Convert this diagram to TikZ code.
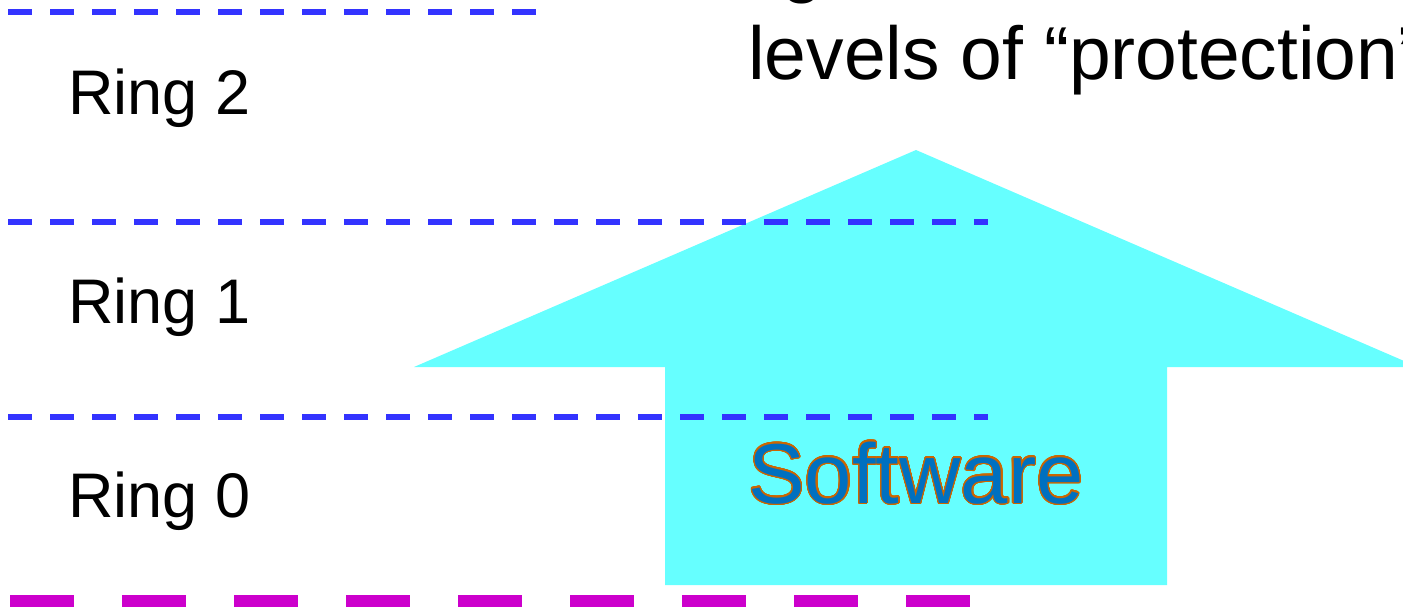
\documentclass[tikz,border=0pt]{standalone}
\usepackage{fontspec}
\setmainfont{Liberation Sans}
\usepackage[copies]{contour}
\contournumber{32}
\contourlength{1.2pt}

\definecolor{ringblue}{RGB}{51,51,255}
\definecolor{arrowcyan}{RGB}{102,255,255}
\definecolor{floormagenta}{RGB}{204,0,204}
\definecolor{swblue}{RGB}{0,112,192}
\definecolor{swedge}{RGB}{204,102,0}

\tikzset{
  ringline/.style={draw=ringblue, line width=6pt, dash pattern=on 24pt off 18pt},
  floorline/.style={draw=floormagenta, line width=21pt, dash pattern=on 64pt off 48pt},
  ringlabel/.style={anchor=base west, inner sep=0pt, font=\fontsize{63}{76}\selectfont},
  headline/.style={anchor=base west, inner sep=0pt, font=\fontsize{75}{90}\selectfont},
  swlabel/.style={anchor=base, inner sep=0pt, font=\fontsize{85}{102}\selectfont}
}

\begin{document}
\begin{tikzpicture}[x=1pt, y=-1pt]
  \useasboundingbox (0,0) rectangle (1403,606);
  \clip (0,0) rectangle (1403,606);

  % upward arrow: privilege grows towards the top
  \fill[arrowcyan] (665,585) -- (665,367) -- (414,367) -- (916,150)
                   -- (1418,367) -- (1167,367) -- (1167,585) -- cycle;

  % ring boundaries
  \coordinate (r2a) at (8,12);   \coordinate (r2b) at (536,12);
  \coordinate (r1a) at (8,222);  \coordinate (r1b) at (988,222);
  \coordinate (r0a) at (8,417);  \coordinate (r0b) at (988,417);
  \draw[ringline] (r2a) -- (r2b);
  \draw[ringline] (r1a) -- (r1b);
  \draw[ringline] (r0a) -- (r0b);

  % hardware floor
  \coordinate (fla) at (10,605); \coordinate (flb) at (970,605);
  \draw[floorline] (fla) -- (flb);

  % ring names
  \node[ringlabel] (ring2) at (68,114) {Ring 2};
  \node[ringlabel] (ring1) at (68,323) {Ring 1};
  \node[ringlabel] (ring0) at (68,517) {Ring 0};

  % heading
  \node[headline] (head1) at (781,-12) {g};
  \node[headline] (head2) at (748,79) {levels of “protection”};

  % label on the arrow shaft
  \node[swlabel] (sw) at (916,503) {\textcolor{swblue}{\contour{swedge}{Software}}};
\end{tikzpicture}
\end{document}
